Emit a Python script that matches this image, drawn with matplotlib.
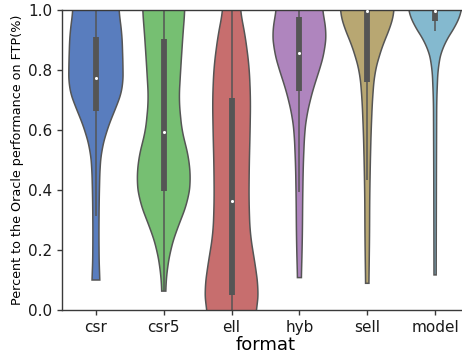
import numpy as np
import matplotlib
matplotlib.use("Agg")
import matplotlib.pyplot as plt
import colorsys
from matplotlib.colors import to_rgb

categories = ["csr", "csr5", "ell", "hyb", "sell", "model"]
base_colors = ["#4878CF", "#6ACC65", "#D65F5F", "#B47CC7", "#C4AD66", "#77BEDB"]

# violin outline: y levels and relative half-widths (1.0 = full width)
csr_y = [0.10, 0.144, 0.256, 0.367, 0.478, 0.533, 0.589, 0.644, 0.70, 0.744, 0.811, 0.922, 1.0]
csr_w = [0.15, 0.12, 0.11, 0.12, 0.15, 0.21, 0.37, 0.59, 0.86, 1.0, 1.0, 0.96, 0.84]
csr5_y = [0.063, 0.10, 0.144, 0.20, 0.256, 0.311, 0.367, 0.433, 0.522, 0.589, 0.70, 0.811, 0.922, 1.0]
csr5_w = [0.07, 0.09, 0.14, 0.25, 0.43, 0.68, 0.90, 1.0, 0.90, 0.68, 0.56, 0.63, 0.71, 0.78]
ell_y = [-0.02, 0.011, 0.067, 0.122, 0.189, 0.256, 0.367, 0.478, 0.589, 0.70, 0.811, 0.922, 1.0]
ell_w = [0.86, 0.96, 0.99, 0.92, 0.80, 0.68, 0.64, 0.65, 0.68, 0.70, 0.65, 0.49, 0.31]
hyb_y = [0.108, 0.167, 0.256, 0.367, 0.478, 0.589, 0.644, 0.70, 0.744, 0.811, 0.867, 0.933, 1.0]
hyb_w = [0.07, 0.09, 0.11, 0.12, 0.14, 0.19, 0.26, 0.40, 0.53, 0.78, 0.94, 1.0, 0.84]
sell_y = [0.089, 0.144, 0.256, 0.367, 0.478, 0.589, 0.70, 0.789, 0.844, 0.90, 0.956, 1.0]
sell_w = [0.06, 0.07, 0.085, 0.09, 0.11, 0.14, 0.19, 0.27, 0.43, 0.64, 0.92, 1.0]
model_y = [0.117, 0.30, 0.478, 0.70, 0.811, 0.878, 0.922, 0.967, 1.0]
model_w = [0.04, 0.045, 0.05, 0.06, 0.11, 0.27, 0.58, 0.89, 1.0]

# box statistics: whisker low, q1, median, q3, whisker high
whisk_lo = [0.313, 0.063, -0.02, 0.394, 0.433, 0.931]
q1 = [0.662, 0.396, 0.05, 0.730, 0.760, 0.964]
median = [0.773, 0.592, 0.364, 0.857, 0.997, 0.997]
q3 = [0.909, 0.902, 0.708, 0.978, 1.0, 1.0]
whisk_hi = [1.0, 1.0, 1.0, 1.0, 1.0, 1.0]

profiles = [(csr_y, csr_w), (csr5_y, csr5_w), (ell_y, ell_w),
            (hyb_y, hyb_w), (sell_y, sell_w), (model_y, model_w)]


def desaturate(c, prop):
    r, g, b = to_rgb(c)
    h, l, s = colorsys.rgb_to_hls(r, g, b)
    return colorsys.hls_to_rgb(h, l, s * prop)


W, H = 462, 355
fig = plt.figure(figsize=(W / 100, H / 100), dpi=100)
ax = fig.add_axes([62 / W, 45 / H, (469 - 62) / W, 300 / H])

gray = "#555555"
half = 0.4
for i, ((ys, ws), col) in enumerate(zip(profiles, base_colors)):
    ys = np.asarray(ys, float)
    ws = np.asarray(ws, float)
    fy = np.linspace(ys[0], ys[-1], 200)
    fw = np.interp(fy, ys, ws)
    k = 9
    pad = np.pad(fw, k, mode="edge")
    fw = np.convolve(pad, np.ones(2 * k + 1) / (2 * k + 1), mode="same")[k:-k]
    hw = fw * half
    xs = np.concatenate([i - hw, (i + hw)[::-1]])
    yy = np.concatenate([fy, fy[::-1]])
    ax.fill(xs, yy, facecolor=desaturate(col, 0.75), edgecolor=gray,
            linewidth=1.1, zorder=1)
    ax.plot([i, i], [whisk_lo[i], whisk_hi[i]], color=gray, lw=1.1, zorder=2,
            solid_capstyle="butt")
    ax.plot([i, i], [q1[i], q3[i]], color=gray, lw=4.2, zorder=2,
            solid_capstyle="butt")
    ax.scatter([i], [median[i]], s=5, color="white", zorder=3, linewidths=0)

ax.set_xlim(-0.5, 5.5)
ax.set_ylim(0, 1.0)
ax.set_xticks(range(len(categories)))
ax.set_xticklabels(categories, fontsize=11)
ax.set_yticks([0.0, 0.2, 0.4, 0.6, 0.8, 1.0])
ax.set_yticklabels(["0.0", "0.2", "0.4", "0.6", "0.8", "1.0"], fontsize=11)
ax.set_xlabel("format", fontsize=13, labelpad=1)
ax.set_ylabel("Percent to the Oracle performance on FTP(%)", fontsize=9.2, labelpad=3)
for s in ["left", "bottom", "top", "right"]:
    ax.spines[s].set_color("#3a3a3a")
    ax.spines[s].set_linewidth(1.0)
ax.tick_params(colors="#3a3a3a", labelcolor="#1a1a1a", length=3.5, width=1.0)

fig.savefig("out.png", dpi=100)
